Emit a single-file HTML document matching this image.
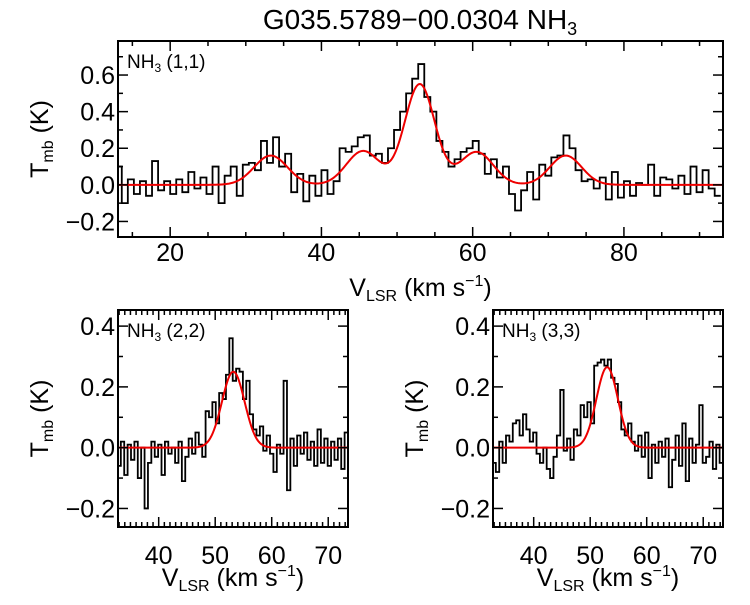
<!DOCTYPE html>
<html><head><meta charset="utf-8"><style>
body{margin:0;background:#fff}
svg text{font-family:"Liberation Sans",sans-serif;fill:#000}
</style></head><body>
<svg id="fig" width="750" height="600" viewBox="0 0 750 600" xmlns="http://www.w3.org/2000/svg">
<text x="420" y="29" font-size="28" text-anchor="middle">G035.5789−00.0304 NH<tspan font-size="18" dy="6">3</tspan></text>
</svg>
<script>
const topStart = 13.2, topStep = 0.8;
const topValues = [0.10,-0.10,0.03,-0.05,0.02,-0.06,0.13,-0.03,0.02,-0.05,0.03,-0.04,0.07,-0.02,0.04,-0.05,0.10,-0.10,0.05,0.10,-0.06,0.11,0.12,0.08,0.24,0.12,0.26,0.10,0.17,-0.04,0.06,-0.09,0.05,-0.06,0.08,-0.05,0.02,0.20,0.18,0.21,0.26,0.27,0.16,0.17,0.12,0.20,0.30,0.40,0.50,0.58,0.66,0.48,0.40,0.24,0.18,0.10,0.14,0.18,0.20,0.24,0.17,0.06,0.14,0.04,0.10,-0.05,-0.14,-0.03,0.07,-0.08,0.11,0.05,0.15,0.16,0.27,0.20,0.08,0.02,0.03,-0.02,0.04,-0.08,0.07,-0.07,0.02,-0.06,0.01,0.00,0.11,-0.06,0.04,0.03,-0.02,0.05,-0.05,0.10,-0.04,0.08,-0.02,-0.06];
const topFitCenters = [33.3,45.5,53.0,60.5,72.3];
const topFitAmps = [0.16,0.185,0.55,0.18,0.16];
const topFitSigmas = [2.2,2.2,2.0,2.2,2.1];

const lowStart = 33.0, lowStep = 0.6;
const v22Values = [-0.06,0.02,-0.09,0.01,-0.04,0.02,-0.10,0.00,-0.20,-0.05,0.02,-0.03,0.01,-0.09,0.02,-0.02,0.00,-0.05,0.02,-0.11,-0.03,0.03,-0.02,0.05,0.01,-0.03,0.12,0.10,0.15,0.08,0.18,0.16,0.24,0.36,0.22,0.26,0.25,0.16,0.22,0.11,0.06,0.04,0.07,-0.01,0.04,-0.02,-0.08,0.01,-0.02,0.22,-0.14,0.03,-0.06,0.04,-0.02,0.05,-0.04,0.02,-0.06,0.06,-0.05,0.03,-0.06,0.02,-0.04,0.03,-0.07,0.05];
const v22FitCenters = [53.2], v22FitAmps = [0.25], v22FitSigmas = [2.0];
const v33Values = [-0.05,-0.08,0.02,-0.05,0.04,0.02,0.08,0.09,0.04,0.11,0.06,0.02,0.05,-0.02,-0.05,0.00,-0.07,-0.10,-0.03,0.04,0.19,-0.01,0.03,-0.04,0.06,0.04,0.14,0.10,0.15,0.08,0.27,0.28,0.29,0.27,0.29,0.23,0.21,0.15,0.06,0.04,0.08,0.02,-0.01,0.04,-0.03,0.05,-0.10,0.01,-0.05,0.02,-0.03,0.03,-0.13,-0.04,0.04,-0.06,0.08,-0.11,0.03,-0.05,0.01,0.14,-0.05,-0.03,0.02,-0.07,0.01,-0.05];
const v33FitCenters = [53.0], v33FitAmps = [0.265], v33FitSigmas = [1.9];

const topXTicks = [20,40,60,80];
const lowXTicks = [40,50,60,70];
const yTicks = [-0.2,0.0,0.2,0.4,0.6];
const yTickLabels = ["−0.2","0.0","0.2","0.4","0.6"];

const NS = "http://www.w3.org/2000/svg";
const svg = document.getElementById('fig');
function mk(tag, attrs, parent){const e=document.createElementNS(NS,tag);for(const k in attrs)e.setAttribute(k,attrs[k]);(parent||svg).appendChild(e);return e;}

function panel(o){
  const g = mk('g',{});
  
  
  const X = v => o.x0 + (v - o.xmin)/(o.xmax - o.xmin)*(o.x1 - o.x0);
  const Y = v => o.y1 - (v - o.ymin)/(o.ymax - o.ymin)*(o.y1 - o.y0);
  const cid = 'clip-' + o.name;
  const cp = mk('clipPath',{id:cid},g);
  mk('rect',{x:o.x0,y:o.y0,width:o.x1-o.x0,height:o.y1-o.y0},cp);
  let d = '';
  o.values.forEach((v,i)=>{
    const c = o.start + o.step*i;
    const xa = X(c - o.step/2), xb = X(c + o.step/2);
    d += (i===0 ? 'M'+xa+','+Y(v) : 'L'+xa+','+Y(v)) + 'L'+xb+','+Y(v);
  });
  const h = mk('path',{d:d,fill:'none',stroke:'#000','stroke-width':1.8,'clip-path':'url(#'+cid+')'},g);
  
  
  let fd = '';
  for(let px=o.x0; px<=o.x1; px+=1){
    const v = o.xmin + (px - o.x0)/(o.x1-o.x0)*(o.xmax-o.xmin);
    let s = 0;
    o.fc.forEach((c,k)=>{ s += o.fa[k]*Math.exp(-0.5*Math.pow((v-c)/o.fs[k],2)); });
    fd += (px===o.x0?'M':'L') + X(v) + ',' + Y(s);
  }
  const f = mk('path',{d:fd,fill:'none',stroke:'#ee0000','stroke-width':2},g);
  
  
  const fr = mk('rect',{x:o.x0,y:o.y0,width:o.x1-o.x0,height:o.y1-o.y0,fill:'none',stroke:'#000','stroke-width':2},g);
  
  
  for(let v=Math.ceil(o.xmin/o.xminor)*o.xminor; v<=o.xmax+1e-9; v+=o.xminor){
    const major = Math.abs(v/o.xmajor - Math.round(v/o.xmajor))<1e-6;
    const L = major?10:5;
    mk('line',{x1:X(v),x2:X(v),y1:o.y1,y2:o.y1-L,stroke:'#000','stroke-width':1.5},g);
    mk('line',{x1:X(v),x2:X(v),y1:o.y0,y2:o.y0+L,stroke:'#000','stroke-width':1.5},g);
  }
  o.xticks.forEach(v=>{
    const t = mk('text',{x:X(v),y:o.y1+o.tickOff,'font-size':25,'text-anchor':'middle'},g);
    t.textContent = v;
    
    
  });
  for(let v=Math.ceil(o.ymin*10)/10; v<=o.ymax+1e-9; v+=0.1){
    const major = Math.abs(v*5 - Math.round(v*5))<1e-6;
    const L = major?10:5;
    mk('line',{x1:o.x0,x2:o.x0+L,y1:Y(v),y2:Y(v),stroke:'#000','stroke-width':1.5},g);
    mk('line',{x1:o.x1,x2:o.x1-L,y1:Y(v),y2:Y(v),stroke:'#000','stroke-width':1.5},g);
  }
  yTicks.forEach((v,i)=>{
    if(v<o.ymin||v>o.ymax) return;
    const t = mk('text',{x:o.x0-3,y:Y(v)+9,'font-size':25,'text-anchor':'end'},g);
    t.textContent = yTickLabels[i];
    
    
  });
  const lab = mk('text',{x:o.x0+9,y:o.y0+27,'font-size':19},g);
  lab.innerHTML = 'NH<tspan font-size="12" dy="4">3</tspan><tspan dy="-4"> '+o.label+'</tspan>';
  
  
  const xt = mk('text',{x:(o.x0+o.x1)/2,y:o.y1+o.titleOff,'font-size':25,'text-anchor':'middle'},g);
  xt.innerHTML = 'V<tspan font-size="16" dy="5">LSR</tspan><tspan dy="-5"> (km s</tspan><tspan font-size="16" dy="-10">−1</tspan><tspan dy="10">)</tspan>';
  
  
  const yc = (o.y0+o.y1)/2;
  const yt = mk('text',{x:0,y:0,'font-size':25,'text-anchor':'middle',transform:'translate('+(o.x0-70)+','+yc+') rotate(-90)'},g);
  yt.innerHTML = 'T<tspan font-size="16" dy="5">mb</tspan><tspan dy="-5"> (K)</tspan>';
  
  
}

panel({name:'panel-nh3-11',x0:118,x1:723,y0:41,y1:237,xmin:13.1,xmax:93.1,ymin:-0.285,ymax:0.786,
  xmajor:20,xminor:5,xticks:topXTicks,values:topValues,start:topStart,step:topStep,
  fc:topFitCenters,fa:topFitAmps,fs:topFitSigmas,label:'(1,1)',tickOff:24,titleOff:59});
panel({name:'panel-nh3-22',x0:118,x1:348,y0:310,y1:527,xmin:32.8,xmax:73.5,ymin:-0.261,ymax:0.453,
  xmajor:10,xminor:1,xticks:lowXTicks,values:v22Values,start:lowStart,step:lowStep,
  fc:v22FitCenters,fa:v22FitAmps,fs:v22FitSigmas,label:'(2,2)',tickOff:37,titleOff:59});
panel({name:'panel-nh3-33',x0:493,x1:723,y0:310,y1:527,xmin:32.8,xmax:73.5,ymin:-0.261,ymax:0.453,
  xmajor:10,xminor:1,xticks:lowXTicks,values:v33Values,start:lowStart,step:lowStep,
  fc:v33FitCenters,fa:v33FitAmps,fs:v33FitSigmas,label:'(3,3)',tickOff:37,titleOff:59});
</script>
</body></html>
